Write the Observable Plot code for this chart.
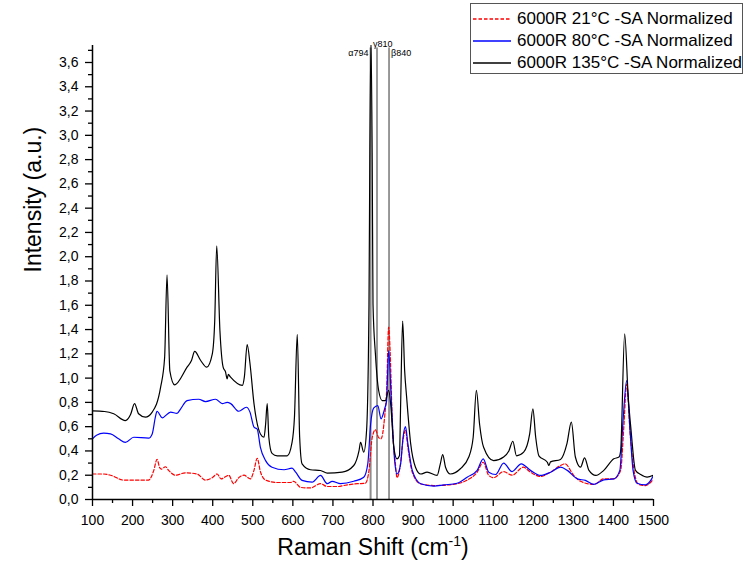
<!DOCTYPE html>
<html><head><meta charset="utf-8">
<script src="https://cdn.jsdelivr.net/npm/d3@7"></script>
<script src="https://cdn.jsdelivr.net/npm/@observablehq/plot@0.6"></script>
<style>
body{margin:0;background:#fff;font-family:"Liberation Sans",Arial,sans-serif;}
#wrap{position:relative;width:746px;height:572px;}
#legend{position:absolute;left:470px;top:3px;width:273px;height:71px;border:1px solid #555;background:#fff;box-sizing:border-box;}
.row{position:absolute;left:2px;height:22px;display:flex;align-items:center;font-size:17px;color:#000;white-space:nowrap;}
.row svg{margin-right:6px;}
</style></head><body><div id="wrap"><div id="legend"></div></div>
<script>
// Raman spectra: [shift cm-1, intensity a.u.]
const s21 = [[100,0.21],[128,0.21],[145,0.2],[178,0.16],[240,0.16],[253,0.24],[261,0.33],[268,0.26],[272,0.25],[282,0.27],[290,0.24],[307,0.2],[332,0.22],[361,0.21],[382,0.16],[399,0.18],[411,0.21],[421,0.17],[433,0.19],[440,0.2],[452,0.13],[465,0.18],[478,0.2],[494,0.17],[503,0.24],[511,0.34],[519,0.23],[532,0.16],[561,0.14],[594,0.14],[602,0.15],[619,0.10],[644,0.095],[669,0.13],[686,0.107],[714,0.107],[727,0.115],[761,0.13],[781,0.134],[790,0.24],[798,0.51],[806,0.574],[814,0.51],[820,0.5],[829,0.68],[834,0.9],[839,1.42],[843,1.2],[848,0.65],[856,0.29],[860,0.18],[868,0.28],[875,0.49],[881,0.57],[887,0.43],[898,0.225],[918,0.13],[952,0.115],[1010,0.13],[1035,0.16],[1060,0.225],[1075,0.307],[1089,0.198],[1101,0.18],[1126,0.23],[1147,0.2],[1175,0.266],[1193,0.225],[1218,0.19],[1243,0.225],[1268,0.28],[1279,0.294],[1301,0.198],[1318,0.15],[1351,0.124],[1376,0.17],[1401,0.17],[1418,0.24],[1426,0.6],[1433,0.95],[1442,0.53],[1453,0.21],[1463,0.124],[1480,0.115],[1500,0.17]];
const s80 = [[100,0.50],[110,0.53],[128,0.546],[145,0.54],[165,0.5],[182,0.47],[203,0.513],[240,0.505],[249,0.54],[257,0.68],[261,0.727],[274,0.673],[295,0.72],[311,0.71],[320,0.747],[336,0.815],[365,0.826],[382,0.807],[407,0.826],[424,0.79],[436,0.80],[445,0.79],[465,0.727],[484,0.76],[493,0.72],[503,0.596],[511,0.58],[519,0.43],[532,0.32],[548,0.266],[578,0.245],[598,0.258],[607,0.225],[623,0.157],[648,0.143],[669,0.198],[686,0.13],[698,0.15],[719,0.13],[752,0.15],[777,0.184],[787,0.294],[794,0.62],[802,0.755],[812,0.774],[820,0.665],[829,0.747],[834,0.815],[839,1.227],[846,0.79],[854,0.32],[860,0.21],[869,0.294],[875,0.513],[881,0.60],[887,0.46],[898,0.24],[919,0.13],[952,0.11],[977,0.12],[1010,0.134],[1035,0.184],[1060,0.24],[1075,0.335],[1089,0.225],[1106,0.206],[1126,0.30],[1147,0.23],[1170,0.294],[1193,0.24],[1218,0.198],[1243,0.225],[1268,0.266],[1285,0.24],[1310,0.17],[1330,0.157],[1351,0.124],[1376,0.162],[1401,0.17],[1416,0.24],[1424,0.65],[1433,0.98],[1441,0.596],[1449,0.24],[1459,0.134],[1480,0.121],[1493,0.157],[1500,0.2]];
const s135 = [[100,0.73],[130,0.725],[153,0.706],[182,0.65],[195,0.7],[205,0.79],[215,0.706],[232,0.678],[249,0.72],[270,0.925],[280,1.17],[286,1.85],[293,1.06],[305,0.945],[336,1.09],[347,1.145],[355,1.22],[370,1.145],[385,1.09],[399,1.2],[405,1.47],[410,2.09],[418,1.39],[426,1.09],[432,1.05],[436,0.994],[439,1.03],[444,1.01],[474,0.94],[479,1.01],[486,1.277],[493,1.12],[503,0.79],[519,0.54],[528,0.513],[532,0.62],[536,0.79],[540,0.513],[548,0.38],[561,0.36],[586,0.36],[598,0.47],[604,0.68],[611,1.36],[617,0.513],[623,0.294],[644,0.245],[669,0.239],[686,0.217],[723,0.225],[752,0.28],[765,0.40],[769,0.47],[777,0.39],[784,0.57],[790,1.61],[792,2.8],[795,3.8],[798,2.8],[800,1.61],[806,1.2],[814,0.9],[823,0.815],[831,0.815],[839,0.9],[844,0.79],[852,0.43],[860,0.335],[866,0.36],[869,0.79],[874,1.47],[879,1.06],[884,0.84],[894,0.46],[906,0.266],[919,0.21],[935,0.225],[960,0.198],[968,0.294],[974,0.37],[981,0.266],[993,0.21],[1018,0.253],[1039,0.35],[1050,0.513],[1058,0.90],[1066,0.62],[1076,0.43],[1101,0.32],[1126,0.35],[1139,0.40],[1149,0.48],[1158,0.36],[1176,0.39],[1191,0.54],[1199,0.747],[1206,0.513],[1214,0.36],[1235,0.307],[1239,0.28],[1243,0.31],[1268,0.33],[1284,0.46],[1295,0.637],[1305,0.35],[1318,0.266],[1328,0.343],[1339,0.24],[1356,0.198],[1376,0.24],[1401,0.335],[1414,0.35],[1418,0.40],[1428,1.365],[1437,0.84],[1444,0.57],[1455,0.24],[1468,0.206],[1484,0.184],[1500,0.2]];

const seriesNames = ["6000R 21°C -SA Normalized", "6000R 80°C -SA Normalized", "6000R 135°C -SA Normalized"];
const seriesColors = ["#ff0000", "#0000ff", "#000000"];
const bandPos = [794, 810, 840];
const bandLabels = ["α794", "γ810", "β840"];
const xMajor = [100,200,300,400,500,600,700,800,900,1000,1100,1200,1300,1400,1500];
const xMinor = [150,250,350,450,550,650,750,850,950,1050,1150,1250,1350,1450];
const yMajor = [0,0.2,0.4,0.6,0.8,1.0,1.2,1.4,1.6,1.8,2.0,2.2,2.4,2.6,2.8,3.0,3.2,3.4,3.6];
const yMinor = [0.1,0.3,0.5,0.7,0.9,1.1,1.3,1.5,1.7,1.9,2.1,2.3,2.5,2.7,2.9,3.1,3.3,3.5,3.7];
const xTitle = "Raman Shift (cm-1)";
const yTitle = "Intensity (a.u.)";

const yTop = 3.74;
const fmt = d => d3.format(".1f")(d).replace(".", ",");
const bands = bandPos.map((x, i) => ({x, label: bandLabels[i]}));

const plot = Plot.plot({
  width: 746, height: 572,
  marginLeft: 92, marginRight: 93, marginTop: 45, marginBottom: 73,
  style: {fontFamily: '"Liberation Sans", Arial, sans-serif', fontSize: "14px", color: "#000", background: "transparent", overflow: "visible"},
  x: {domain: [100, 1500], label: null},
  y: {domain: [0, yTop], label: null},
  marks: [
    Plot.ruleX(bands.slice(0, 1), {x: "x", y1: 0, y2: yTop - 0.02, stroke: "#8c8c8c", strokeWidth: 2}),
    Plot.ruleX(bands.slice(1), {x: "x", y1: 0, y2: yTop - 0.02, stroke: "#333", strokeWidth: 1}),
    Plot.line(s21, {x: d => d[0], y: d => d[1], stroke: seriesColors[0], strokeWidth: 1.2, strokeDasharray: "3.5,2", curve: "monotone-x", clip: true}),
    Plot.line(s80, {x: d => d[0], y: d => d[1], stroke: seriesColors[1], strokeWidth: 1.2, curve: "monotone-x", clip: true}),
    Plot.line(s135, {x: d => d[0], y: d => d[1], stroke: seriesColors[2], strokeWidth: 1.2, curve: "monotone-x", clip: true}),
    Plot.text(bands.slice(0, 1), {x: "x", y: yTop, text: "label", textAnchor: "end", dx: -2, dy: 8, fontSize: 9}),
    Plot.text(bands.slice(1, 2), {x: "x", y: yTop, text: "label", textAnchor: "start", dx: -4, dy: -1, fontSize: 9}),
    Plot.text(bands.slice(2), {x: "x", y: yTop, text: "label", textAnchor: "start", dx: 2, dy: 8, fontSize: 9}),
    Plot.axisX(xMajor, {tickSize: 7, tickPadding: 9, tickFormat: d => String(d), label: null, strokeWidth: 1.3}),
    Plot.axisX(xMinor, {tickSize: 4, tickFormat: () => "", label: null, strokeWidth: 1.3}),
    Plot.axisY(yMajor, {tickSize: 7, tickPadding: 7, tickFormat: fmt, label: null, strokeWidth: 1.3}),
    Plot.axisY(yMinor, {tickSize: 4, tickFormat: () => "", label: null, strokeWidth: 1.3}),
    Plot.ruleX([xMajor[0]], {strokeWidth: 1.5}),
    Plot.ruleY([yMajor[0]], {strokeWidth: 1.5}),
    Plot.text([yTitle], {frameAnchor: "left", text: d => d, rotate: -90, dx: -59, fontSize: 23}),
    Plot.text([xTitle], {frameAnchor: "bottom", text: d => d, dy: 55, fontSize: 23})
  ]
});
document.getElementById("wrap").prepend(plot);

// superscript for cm-1
plot.querySelectorAll("text").forEach(t => {
  if (t.textContent === xTitle) {
    t.textContent = "";
    const ns = "http://www.w3.org/2000/svg";
    const a = document.createElementNS(ns, "tspan"); a.textContent = "Raman Shift (cm";
    const b = document.createElementNS(ns, "tspan"); b.textContent = "-1"; b.setAttribute("font-size", "14"); b.setAttribute("dy", "-9");
    const c = document.createElementNS(ns, "tspan"); c.textContent = ")"; c.setAttribute("dy", "9");
    t.append(a, b, c);
  }
});

// legend
const legend = document.getElementById("legend");
seriesNames.forEach((name, i) => {
  const row = document.createElement("div");
  row.className = "row";
  row.style.top = (4 + i * 22) + "px";
  const dash = i === 0 ? 'stroke-dasharray="3.5,2"' : '';
  row.innerHTML = `<svg width="38" height="4"><line x1="0" y1="2" x2="38" y2="2" stroke="${seriesColors[i]}" stroke-width="1.3" ${dash}/></svg><span>${name}</span>`;
  legend.append(row);
});
</script>
</body></html>
